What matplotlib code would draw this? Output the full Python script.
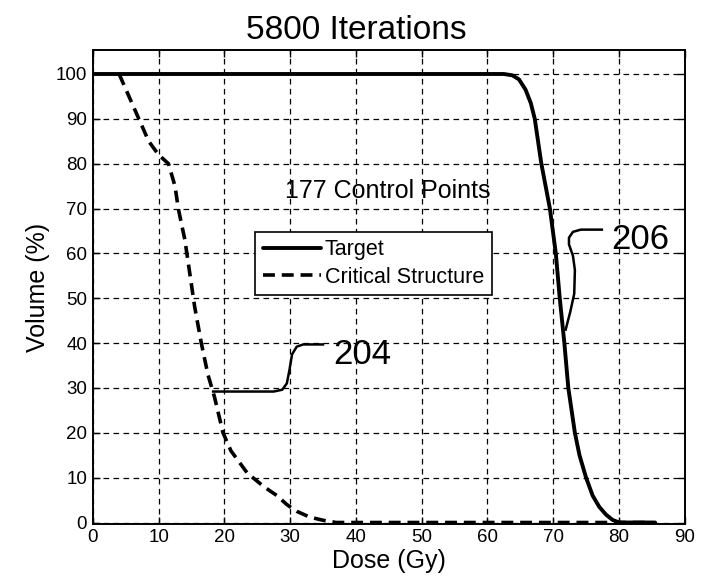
import matplotlib
matplotlib.use("Agg")
import matplotlib.pyplot as plt

plt.rcParams["font.family"] = ["Liberation Sans", "DejaVu Sans"]

# Dose-volume histogram
target_dose = [0, 62.5, 63.8, 64.8, 65.8, 66.6, 67.2, 68.2, 69.5, 70.4, 71, 71.7, 72.3, 73.3,
               74, 75, 76, 77, 78, 79, 80, 85.5]
target_vol = [100, 100, 99.7, 98.8, 96.5, 93.5, 90, 80, 70, 60, 50, 40, 30, 20,
              15, 10, 6, 3.5, 1.8, 0.6, 0, 0]

critical_dose = [4, 5.5, 7, 8.5, 10, 11.5, 12.5, 13, 14, 14.8, 15.5, 16.5, 17.5,
                 18.5, 19.8, 21, 23.5, 26, 28, 29.5, 31, 33, 35, 37, 85]
critical_vol = [100, 95, 90, 85, 82, 80, 75, 70, 63, 55, 48, 40, 33,
                28, 20, 16, 11, 8, 6, 4, 2.5, 1.2, 0.5, 0, 0]

x_ticks = list(range(0, 100, 10))
y_ticks = list(range(0, 110, 10))

# callout leader lines (data coords)
lead_204_x = [18.3, 27.5, 28.8, 29.5, 29.9, 30.3, 31.0, 32.0, 35.0]
lead_204_y = [29.2, 29.2, 29.6, 31.0, 34.0, 37.5, 39.2, 39.7, 39.7]
lead_206_x = [77.4, 74.2, 73.0, 72.4, 72.4, 73.0, 73.3, 73.2, 72.6, 71.9]
lead_206_y = [65.3, 65.3, 64.8, 63.5, 62.0, 59.5, 56.3, 51.0, 47.0, 43.0]

fig = plt.figure(figsize=(7.03, 5.84), dpi=100)
ax = fig.add_axes([0.132, 0.103, 0.842, 0.811])

ax.plot(target_dose, target_vol, color="black", linewidth=2.8,
        solid_capstyle="round", solid_joinstyle="round", label="Target", zorder=3)
ax.plot(critical_dose, critical_vol, color="black", linewidth=2.6,
        linestyle=(0, (3.3, 1.9)), label="Critical Structure", zorder=3)

ax.plot(lead_204_x, lead_204_y, color="black", linewidth=1.8, zorder=3)
ax.plot(lead_206_x, lead_206_y, color="black", linewidth=1.8, zorder=3)
ax.text(36.6, 37.4, "204", fontsize=25, ha="left", va="center")
ax.text(78.8, 63.0, "206", fontsize=25, ha="left", va="center")
ax.text(44.8, 74.0, "177 Control Points", fontsize=18, ha="center", va="center")

ax.set_xlim(0, 90)
ax.set_ylim(-0.3, 105.3)
ax.set_xticks(x_ticks)
ax.set_yticks(y_ticks)
ax.tick_params(direction="in", top=True, right=True, length=5, width=1,
               labelsize=13.5, pad=4)
ax.grid(True, color="black", linestyle=(0, (4.5, 3.5)), linewidth=0.9)
for s in ax.spines.values():
    s.set_linewidth(1.4)

ax.set_xlabel("Dose (Gy)", fontsize=18, labelpad=2)
ax.set_ylabel("Volume (%)", fontsize=18, labelpad=4)
ax.set_title("5800 Iterations", fontsize=24, x=0.446, pad=8)

leg = ax.legend(loc="upper left", bbox_to_anchor=(0.274, 0.617), fontsize=15.5,
                frameon=True, fancybox=False, edgecolor="black", framealpha=1,
                handlelength=2.7, handletextpad=0.2, borderpad=0.35,
                labelspacing=0.3, borderaxespad=0)
leg.get_frame().set_linewidth(1.2)

fig.savefig("out.png", dpi=100)
